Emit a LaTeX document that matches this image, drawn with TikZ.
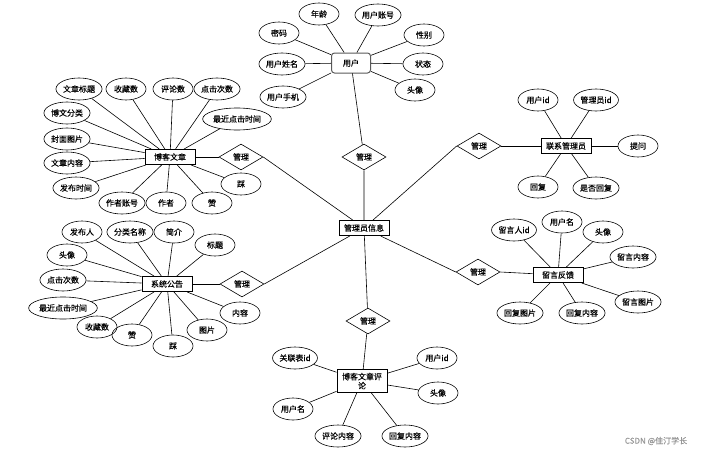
\documentclass[tikz,border=0pt]{standalone}
\usepackage{fontspec}
\setmainfont{Noto Sans CJK SC}[FakeBold=0.4]
\usetikzlibrary{shapes.geometric}
\definecolor{markgray}{RGB}{150,150,150}

\begin{document}
\begin{tikzpicture}[x=1pt,y=-1pt,
	every node/.style={font=\fontsize{8}{9}\selectfont},
	attr/.style={draw,ellipse,line width=0.6pt,inner sep=0.3pt,minimum width=40,minimum height=22},
	ent/.style={draw,line width=1pt,minimum width=50,minimum height=15,inner sep=1pt},
	rel/.style={draw,diamond,line width=0.6pt,aspect=1.7,minimum width=44,minimum height=26,inner sep=0pt},
	link/.style={line width=0.6pt}]
	\useasboundingbox (0,0) rectangle (709,455);
	% entities
	\node[ent,rounded corners=3pt,draw=black!65,minimum width=39,minimum height=20] (user) at (351,63) {用户};
	\node[ent] (article) at (170,157) {博客文章};
	\node[ent] (notice) at (167,284) {系统公告};
	\node[ent] (admin) at (364,228) {管理员信息};
	\node[ent] (contact) at (566,146) {联系管理员};
	\node[ent] (feedback) at (558,275) {留言反馈};
	\node[ent,align=center,minimum height=23,text width=44] (comment) at (362,381) {博客文章评\\论};
	% relations
	\node[rel] (r1) at (364,157) {管理};
	\node[rel] (r2) at (241,157) {管理};
	\node[rel] (r3) at (242,284) {管理};
	\node[rel] (r4) at (479,146) {管理};
	\node[rel] (r5) at (478,272) {管理};
	\node[rel] (r6) at (368,321) {管理};
	% user
	\node[attr] (u1) at (319,14) {年龄};
	\node[attr] (u2) at (378,15) {用户账号};
	\node[attr] (u3) at (279,33) {密码};
	\node[attr] (u4) at (424,35) {性别};
	\node[attr] (u5) at (282,64) {用户姓名};
	\node[attr] (u6) at (423,64) {状态};
	\node[attr] (u7) at (283,97) {用户手机};
	\node[attr] (u8) at (415,90) {头像};
	% article
	\node[attr] (a1) at (79,89) {文章标题};
	\node[attr] (a2) at (126,89) {收藏数};
	\node[attr] (a3) at (173,89) {评论数};
	\node[attr] (a4) at (217,89) {点击次数};
	\node[attr] (a5) at (67,113) {博文分类};
	\node[attr] (a6) at (237,119) {最近点击时间};
	\node[attr] (a7) at (67,139) {封面图片};
	\node[attr] (a8) at (67,163) {文章内容};
	\node[attr] (a9) at (76,188) {发布时间};
	\node[attr] (a10) at (122,203) {作者账号};
	\node[attr] (a11) at (166,203) {作者};
	\node[attr] (a12) at (212,203) {赞};
	\node[attr] (a13) at (241,184) {踩};
	% notice
	\node[attr] (n1) at (82,232) {发布人};
	\node[attr] (n2) at (130,232) {分类名称};
	\node[attr] (n3) at (174,232) {简介};
	\node[attr] (n4) at (215,245) {标题};
	\node[attr] (n5) at (67,255) {头像};
	\node[attr] (n6) at (63,280) {点击次数};
	\node[attr] (n7) at (63,308) {最近点击时间};
	\node[attr] (n8) at (97,327) {收藏数};
	\node[attr] (n9) at (132,335) {赞};
	\node[attr] (n10) at (173,346) {踩};
	\node[attr] (n11) at (207,330) {图片};
	\node[attr] (n12) at (240,313) {内容};
	% contact
	\node[attr] (c1) at (538,100) {用户id};
	\node[attr] (c2) at (596,100) {管理员id};
	\node[attr] (c3) at (638,146) {提问};
	\node[attr] (c4) at (538,187) {回复};
	\node[attr] (c5) at (596,188) {是否回复};
	% feedback
	\node[attr] (f1) at (514,230) {留言人id};
	\node[attr] (f2) at (562,222) {用户名};
	\node[attr] (f3) at (603,232) {头像};
	\node[attr] (f4) at (633,257) {留言内容};
	\node[attr] (f5) at (638,302) {留言图片};
	\node[attr] (f6) at (520,313) {回复图片};
	\node[attr] (f7) at (582,313) {回复内容};
	% comment
	\node[attr] (m1) at (295,358) {关联表id};
	\node[attr] (m2) at (437,358) {用户id};
	\node[attr] (m3) at (438,393) {头像};
	\node[attr] (m4) at (293,409) {用户名};
	\node[attr] (m5) at (338,436) {评论内容};
	\node[attr] (m6) at (405,436) {回复内容};
	% links
	\foreach \i in {1,...,8} \draw[link] (user) -- (u\i);
	\foreach \i in {1,...,13} \draw[link] (article) -- (a\i);
	\foreach \i in {1,...,12} \draw[link] (notice) -- (n\i);
	\foreach \i in {1,...,5} \draw[link] (contact) -- (c\i);
	\foreach \i in {1,...,7} \draw[link] (feedback) -- (f\i);
	\foreach \i in {1,...,6} \draw[link] (comment) -- (m\i);
	\draw[link] (user) -- (r1) -- (admin);
	\draw[link] (article) -- (r2.west);
	\draw[link] (r2.east) -- (admin);
	\draw[link] (notice) -- (r3.west);
	\draw[link] (r3.east) -- (admin);
	\draw[link] (contact) -- (r4.east);
	\draw[link] (r4.west) -- (admin);
	\draw[link] (feedback) -- (r5.east);
	\draw[link] (r5.west) -- (admin);
	\draw[link] (admin) -- (r6) -- (comment);
	\node[text=markgray,font=\fontsize{8}{9}\selectfont] (mark) at (656,441) {CSDN @佳汀学长};
\end{tikzpicture}
\end{document}
